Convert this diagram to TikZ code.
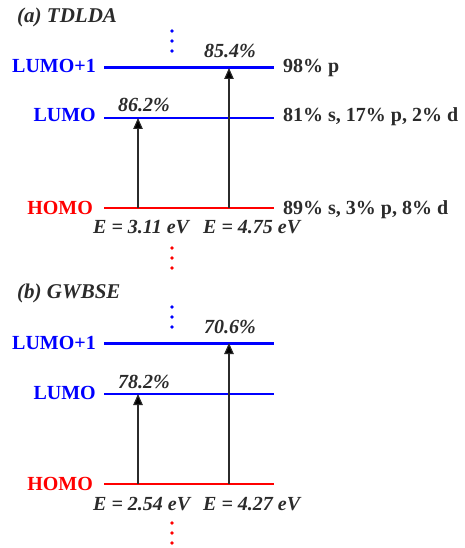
\documentclass[tikz,border=0pt]{standalone}
\usepackage{fontspec}
\setmainfont{Liberation Serif}
\usetikzlibrary{arrows.meta}
\definecolor{txt}{HTML}{2B2B2B}
\begin{document}
\begin{tikzpicture}[x=1pt,y=-1pt,
  title/.style={font=\fontsize{21}{25}\selectfont\bfseries\itshape, text=txt, inner sep=0, anchor=base west},
  lvlname/.style={font=\fontsize{20}{24}\selectfont\bfseries, inner sep=0, anchor=base east},
  comp/.style={font=\fontsize{20}{24}\selectfont\bfseries, text=txt, inner sep=0, anchor=base west},
  pct/.style={font=\fontsize{20}{24}\selectfont\bfseries\itshape, text=txt, inner sep=0, anchor=base west},
  thinlvl/.style={line width=1.2pt},
  thicklvl/.style={line width=3pt},
  exc/.style={draw=txt, line width=1.1pt, -{Triangle[width=9.5pt,length=11pt,fill=black]}},
  dot/.style={circle, inner sep=0, minimum size=3.8pt}
]
\useasboundingbox (0,0) rectangle (464,548);

% ---------- panel (a) ----------
\node[title] (ta) at (17,23) {(a) TDLDA};
\foreach \yy [count=\i] in {31,41,51} \node[dot, fill=blue] (abd\i) at (172,\yy) {};
\coordinate (aL1w) at (104,68);  \coordinate (aL1e) at (274,68);
\coordinate (aLw)  at (104,118); \coordinate (aLe)  at (274,118);
\coordinate (aHw)  at (104,208); \coordinate (aHe)  at (274,208);
\draw[blue, thicklvl] (aL1w) -- (aL1e);
\draw[blue, thinlvl] (aLw) -- (aLe);
\draw[red, thinlvl] (aHw) -- (aHe);
\node[lvlname, text=blue] (anL1) at (96,73) {LUMO+1};
\node[lvlname, text=blue] (anL) at (96,122) {LUMO};
\node[lvlname, text=red] (anH) at (93,214) {HOMO};
\node[comp] (acL1) at (283,73) {98\% p};
\node[comp] (acL) at (283,122) {81\% s, 17\% p, 2\% d};
\node[comp] (acH) at (283,214) {89\% s, 3\% p, 8\% d};
\coordinate (aA1s) at (138,208); \coordinate (aA1e) at (138,118);
\coordinate (aA2s) at (229,208); \coordinate (aA2e) at (229,68);
\draw[exc] (aA1s) -- (aA1e);
\draw[exc] (aA2s) -- (aA2e);
\node[pct] (ap1) at (118,112) {86.2\%};
\node[pct] (ap2) at (204,58) {85.4\%};
\node[pct] (ae1) at (93,233) {\textit{E} = 3.11 eV};
\node[pct] (ae2) at (203,233) {\textit{E} = 4.75 eV};
\foreach \yy [count=\i] in {248,258,268} \node[dot, fill=red] (ard\i) at (172,\yy) {};

% ---------- panel (b) ----------
\node[title] (tb) at (17,298) {(b) GWBSE};
\foreach \yy [count=\i] in {307,317,327} \node[dot, fill=blue] (bbd\i) at (172,\yy) {};
\coordinate (bL1w) at (104,343); \coordinate (bL1e) at (274,343);
\coordinate (bLw)  at (104,394); \coordinate (bLe)  at (274,394);
\coordinate (bHw)  at (104,484); \coordinate (bHe)  at (274,484);
\draw[blue, thicklvl] (bL1w) -- (bL1e);
\draw[blue, thinlvl] (bLw) -- (bLe);
\draw[red, thinlvl] (bHw) -- (bHe);
\node[lvlname, text=blue] (bnL1) at (96,349) {LUMO+1};
\node[lvlname, text=blue] (bnL) at (96,399) {LUMO};
\node[lvlname, text=red] (bnH) at (93,490) {HOMO};
\coordinate (bA1s) at (138,484); \coordinate (bA1e) at (138,394);
\coordinate (bA2s) at (229,484); \coordinate (bA2e) at (229,343);
\draw[exc] (bA1s) -- (bA1e);
\draw[exc] (bA2s) -- (bA2e);
\node[pct] (bp1) at (118,388) {78.2\%};
\node[pct] (bp2) at (204,333) {70.6\%};
\node[pct] (be1) at (93,510) {\textit{E} = 2.54 eV};
\node[pct] (be2) at (203,510) {\textit{E} = 4.27 eV};
\foreach \yy [count=\i] in {523,533,543} \node[dot, fill=red] (brd\i) at (172,\yy) {};
\end{tikzpicture}
\end{document}
